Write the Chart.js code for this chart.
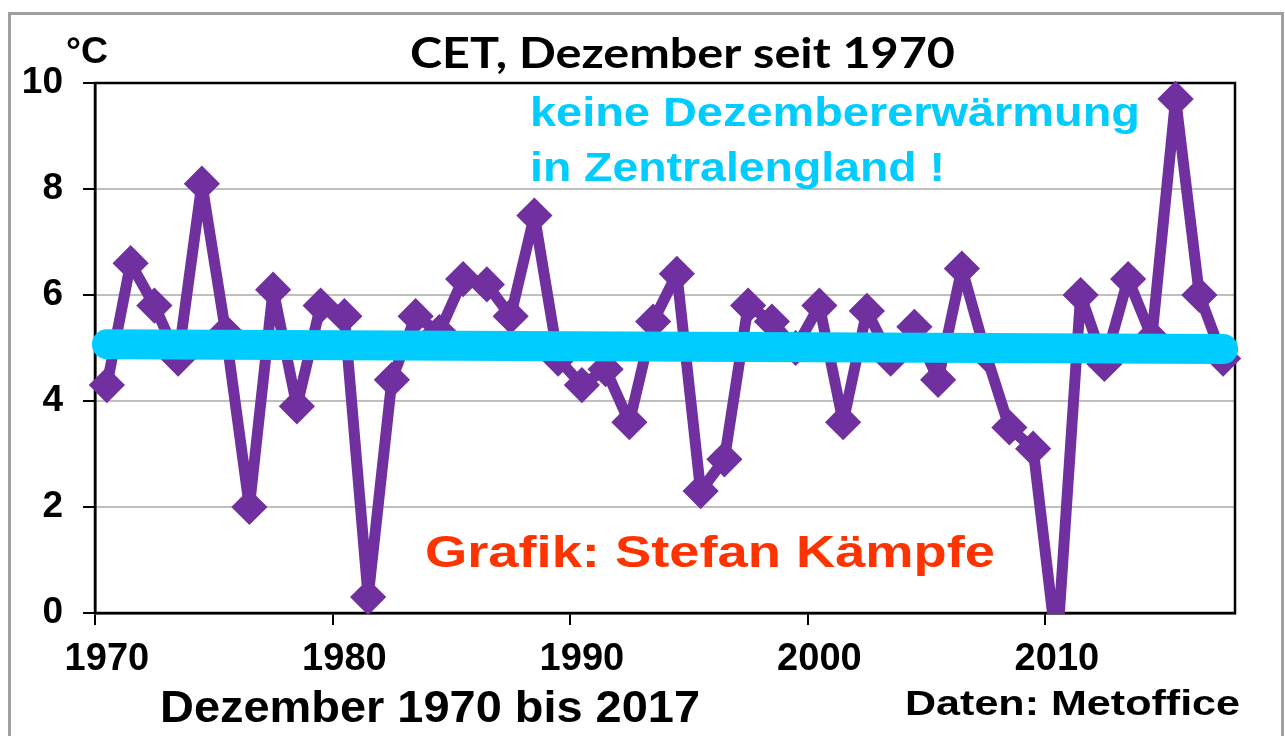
<!DOCTYPE html>
<html><head><meta charset="utf-8">
<script src="https://cdn.jsdelivr.net/npm/chart.js@4.4.0/dist/chart.umd.min.js"></script>
<style>html,body{margin:0;padding:0;background:#fff;overflow:hidden}#wrap{width:1285px;height:736px;position:relative}</style>
</head><body><div id="wrap"><canvas id="c" width="1285" height="736"></canvas></div>
<script>
const years = [1970,1971,1972,1973,1974,1975,1976,1977,1978,1979,
               1980,1981,1982,1983,1984,1985,1986,1987,1988,1989,
               1990,1991,1992,1993,1994,1995,1996,1997,1998,1999,
               2000,2001,2002,2003,2004,2005,2006,2007,2008,2009,
               2010,2011,2012,2013,2014,2015,2016,2017];
const decemberTemps = [4.3,6.6,5.8,4.8,8.1,5.3,2.0,6.1,3.9,5.8,
                       5.6,0.3,4.4,5.6,5.3,6.3,6.2,5.6,7.5,4.8,
                       4.3,4.6,3.6,5.5,6.4,2.3,2.9,5.8,5.5,5.0,
                       5.8,3.6,5.7,4.8,5.4,4.4,6.5,4.9,3.5,3.1,
                       -0.7,6.0,4.7,6.3,5.2,9.7,6.0,4.8];
const trendYears = ['1970','2017'];
const trendValues = [5.07, 4.98];
const xTickYears = [1970,1980,1990,2000,2010];
const yMin = 0, yMax = 10, yStep = 2;

const labels = years.map(String);
const SANS = '"Liberation Sans", Arial, sans-serif';

function fitText(ctx, text, left, baseline, width, font, color) {
  ctx.save();
  ctx.font = font;
  ctx.fillStyle = color;
  ctx.textAlign = 'left';
  ctx.textBaseline = 'alphabetic';
  const w = ctx.measureText(text).width;
  ctx.translate(left, baseline);
  ctx.scale(width / w, 1);
  ctx.fillText(text, 0, 0);
  ctx.restore();
}

const decor = {
  id: 'decor',
  beforeDraw(chart) {
    const ctx = chart.ctx;
    ctx.save();
    ctx.fillStyle = '#fff';
    ctx.fillRect(0, 0, chart.width, chart.height);
    ctx.strokeStyle = '#a0a0a0';
    ctx.lineWidth = 3;
    ctx.strokeRect(9.5, 13.5, 1273, 740);
    ctx.restore();
  },
  beforeDatasetsDraw(chart) {
    const ctx = chart.ctx, a = chart.chartArea;
    ctx.save();
    ctx.strokeStyle = '#000';
    ctx.lineWidth = 2.5;
    ctx.strokeRect(a.left, a.top, a.right - a.left, a.bottom - a.top);
    ctx.restore();
  },
  afterDatasetsDraw(chart) {
    const ctx = chart.ctx;
    fitText(ctx, '°C', 66, 63, 42, 'bold 36px ' + SANS, '#000');
    fitText(ctx, 'CET, Dezember seit 1970', 410, 68, 545, 'bold 42px Lato, "Open Sans", sans-serif', '#000');
    fitText(ctx, 'keine Dezembererwärmung', 530, 126, 610, 'bold 40px ' + SANS, '#00CCFF');
    fitText(ctx, 'in Zentralengland !', 530, 181, 415, 'bold 40px ' + SANS, '#00CCFF');
    fitText(ctx, 'Grafik: Stefan Kämpfe', 425, 567, 570, 'bold 44px ' + SANS, '#FF3300');
    fitText(ctx, 'Dezember 1970 bis 2017', 160, 722, 540, 'bold 45px ' + SANS, '#000');
    fitText(ctx, 'Daten: Metoffice', 905, 715, 335, 'bold 35px ' + SANS, '#000');
  }
};

new Chart(document.getElementById('c'), {
  type: 'line',
  data: {
    labels: labels,
    datasets: [
      {
        data: trendYears.map((y, i) => ({x: y, y: trendValues[i]})),
        borderColor: '#00CCFF',
        borderWidth: 30,
        borderCapStyle: 'round',
        pointRadius: 0,
        order: 0,
        clip: 30
      },
      {
        data: decemberTemps,
        borderColor: '#7030A0',
        borderWidth: 11,
        borderJoinStyle: 'round',
        tension: 0,
        pointStyle: 'rectRot',
        pointRadius: 16,
        pointBorderWidth: 3,
        pointBackgroundColor: '#7030A0',
        pointBorderColor: '#7030A0',
        order: 1,
        clip: {left: 30, top: 30, right: 30, bottom: 1}
      }
    ]
  },
  options: {
    responsive: false,
    animation: false,
    devicePixelRatio: 1,
    layout: {padding: {left: 0, top: 83, right: 50, bottom: 0}},
    plugins: {legend: {display: false}, tooltip: {enabled: false}, title: {display: false}},
    scales: {
      x: {
        type: 'category',
        offset: true,
        grid: {
          offset: true,
          drawOnChartArea: false,
          drawTicks: true,
          tickLength: 12,
          lineWidth: 2,
          color: ctx => (ctx.index % 10 === 0 ? '#000' : 'rgba(0,0,0,0)'),
          tickColor: ctx => (ctx.index % 10 === 0 ? '#000' : 'rgba(0,0,0,0)')
        },
        border: {display: true, color: '#000', width: 2.5},
        ticks: {
          autoSkip: false,
          maxRotation: 0,
          minRotation: 0,
          padding: 12,
          color: '#000',
          font: {family: SANS, size: 38, weight: 'bold'},
          callback: function (v, i) { return xTickYears.includes(years[i]) ? String(years[i]) : ''; }
        },
        afterFit: s => { s.height = 123; }
      },
      y: {
        type: 'linear',
        min: yMin,
        max: yMax,
        grid: {
          color: '#bfbfbf',
          lineWidth: 2,
          tickColor: '#000',
          tickLength: 12,
          drawTicks: true
        },
        border: {display: true, color: '#000', width: 2.5},
        ticks: {
          stepSize: yStep,
          padding: 20,
          color: '#000',
          font: {family: SANS, size: 37, weight: 'bold'}
        },
        afterFit: s => { s.width = 95; }
      }
    }
  },
  plugins: [decor]
});
</script>
</body></html>
